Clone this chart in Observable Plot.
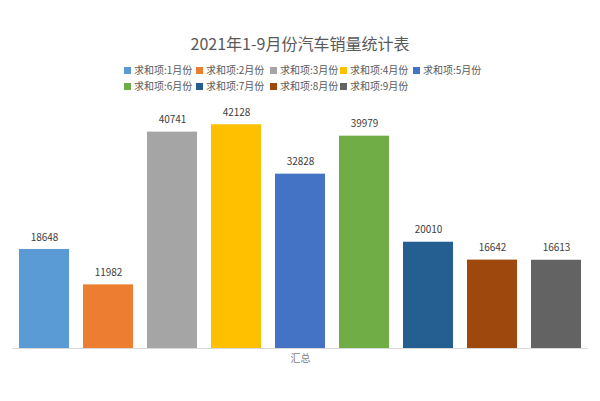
<!DOCTYPE html>
<html>
<head>
<meta charset="utf-8">
<script src="https://cdn.jsdelivr.net/npm/d3@7"></script>
<script src="https://cdn.jsdelivr.net/npm/@observablehq/plot@0.6"></script>
<style>
  html, body { margin: 0; padding: 0; background: #fff; }
  #wrap { position: relative; width: 600px; height: 401px; font-family: "Noto Sans CJK SC", "Noto Sans", sans-serif; }
  #title { position: absolute; left: 0; width: 600px; top: 32px; text-align: center; font-size: 16px; color: #595959; line-height: 22px; }
  .lg { position: absolute; font-size: 10px; color: #595959; line-height: 14px; white-space: nowrap; }
  .lg span.sw { display: inline-block; width: 7px; height: 7px; margin-right: 3px; vertical-align: 0px; }
</style>
</head>
<body>
<div id="wrap">
  <div id="title">2021年1-9月份汽车销量统计表</div>
  <div id="legend"></div>
  <div id="chart"></div>
</div>
<script>
const months = ["求和项:1月份","求和项:2月份","求和项:3月份","求和项:4月份","求和项:5月份","求和项:6月份","求和项:7月份","求和项:8月份","求和项:9月份"];
const sales = [18648, 11982, 40741, 42128, 32828, 39979, 20010, 16642, 16613];
const colors = ["#5B9BD5","#ED7D31","#A5A5A5","#FFC000","#4472C4","#70AD47","#255E91","#9E480E","#636363"];
const categoryLabel = "汇总";

const data = months.map((m, i) => ({month: m, value: sales[i]}));

// legend (two rows, aligned columns)
const legend = document.getElementById("legend");
const colX = [124, 196, 270, 340, 413];
const rowY = [63, 79];
months.forEach((m, i) => {
  const d = document.createElement("div");
  d.className = "lg";
  d.style.left = colX[i % 5] + "px";
  d.style.top = rowY[Math.floor(i / 5)] + "px";
  d.innerHTML = `<span class="sw" style="background:${colors[i]}"></span>${m}`;
  legend.appendChild(d);
});

const chart = Plot.plot({
  width: 600,
  height: 401,
  marginLeft: 12,
  marginRight: 12,
  marginTop: 109,
  marginBottom: 53,
  style: {fontFamily: "'Noto Sans CJK SC', 'Noto Sans', sans-serif", background: "transparent"},
  x: {domain: months, paddingInner: 0.22, paddingOuter: 0.11, axis: null},
  y: {domain: [0, 45000], axis: null},
  color: {domain: months, range: colors},
  marks: [
    Plot.barY(data, {x: "month", y: "value", fill: "month"}),
    Plot.ruleY([0], {stroke: "#d9d9d9", strokeWidth: 1}),
    Plot.text(data, {x: "month", y: "value", text: d => String(d.value), dy: -12, fontSize: 10, fill: "#404040"}),
    Plot.text([categoryLabel], {frameAnchor: "bottom", dy: 13, fontSize: 10, fill: "#7f7f7f"})
  ]
});
document.getElementById("chart").appendChild(chart);
</script>
</body>
</html>
